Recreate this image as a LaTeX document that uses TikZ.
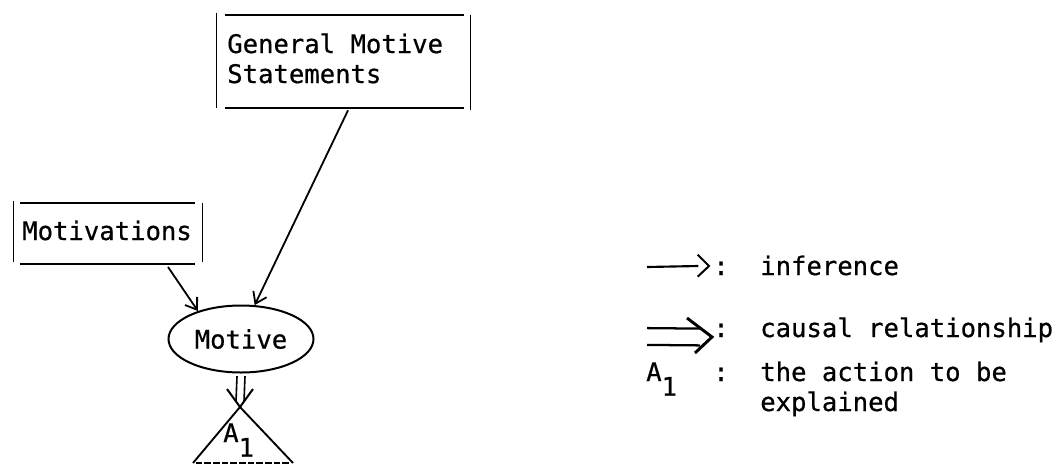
\documentclass[tikz,border=0pt]{standalone}
\usepackage{fontspec}
\newfontfamily\tw{DejaVu Sans Mono}[FakeBold=0.6]
\usetikzlibrary{arrows.meta,shapes.geometric}
\begin{document}
\begin{tikzpicture}[x=0.75pt,y=-0.75pt,
  font=\tw\fontsize{19.2}{22.5}\selectfont,
  txt/.style={inner sep=0pt, anchor=base west},
  boxnode/.style={rectangle, inner sep=0pt},
  hline/.style={line width=1.8pt},
  vline/.style={line width=1pt},
  conn/.style={line width=1.35pt, -{Straight Barb[length=8pt,width=11pt]}},
  dbl/.style={line width=1.2pt},
  head/.style={line width=1.5pt, line join=miter},
  tri/.style={line width=1.4pt}]
\useasboundingbox (0,0) rectangle (1061,465);

% General Motive Statements box
\node[boxnode, minimum width=189.75pt, minimum height=69.75pt] (gms) at (343.5,61.5) {};
\node[txt] (gms1) at (227,53) {General Motive};
\node[txt] (gms2) at (227,83) {Statements};
\draw[hline] ([xshift=6pt]gms.north west) -- ([xshift=-5pt]gms.north east);
\draw[hline] ([xshift=6pt]gms.south west) -- ([xshift=-5pt]gms.south east);
\draw[vline] ([yshift=1.5pt]gms.north west) -- (gms.south west);
\draw[vline] (gms.north east) -- ([yshift=-1.5pt]gms.south east);

% Motivations box
\node[boxnode, minimum width=141pt, minimum height=45.75pt] (mots) at (108,233.5) {};
\node[txt] (motstext) at (22,240) {Motivations};
\draw[hline] ([xshift=4.5pt]mots.north west) -- ([xshift=-5.25pt]mots.north east);
\draw[hline] ([xshift=4.5pt]mots.south west) -- ([xshift=-5.25pt]mots.south east);
\draw[vline] ([yshift=1pt]mots.north west) -- ([yshift=1.5pt]mots.south west);
\draw[vline] (mots.north east) -- ([yshift=1.5pt]mots.south east);

% Motive
\node[ellipse, draw, line width=1.5pt, minimum width=108.75pt, minimum height=50.25pt, inner sep=0pt] (motive) at (241,339) {Motive};

% inference connectors
\draw[conn] ([xshift=45pt,yshift=-2pt]mots.south) -- (motive.147);
\draw[conn] ([xshift=3.4pt,yshift=-1.5pt]gms.south) -- (motive.68);

% action A1 (triangle)
\coordinate (apex) at (240,407);
\coordinate (tl) at (193,463);
\coordinate (tr) at (293,463);
\draw[tri] (tl) -- (apex) -- (tr);
\draw[line width=1.1pt, dash pattern=on 5pt off 1.5pt] ([xshift=2pt]tl) -- ([xshift=-2pt]tr);
\node[txt] (a1) at (223,442) {A\raisebox{-11pt}{1}};

% causal relationship Motive => A1
\draw[dbl] ([xshift=-3pt,yshift=-2pt]motive.south) -- ([xshift=-3pt,yshift=4pt]apex);
\draw[dbl] ([xshift=3pt,yshift=-2pt]motive.south) -- ([xshift=3pt,yshift=4pt]apex);
\draw[head] ([xshift=-9.75pt,yshift=13.5pt]apex) -- (apex) -- ([xshift=9.75pt,yshift=13.5pt]apex);

% legend
\coordinate (l1a) at (647,267);
\coordinate (l1b) at (709,266);
\draw[line width=1.6pt] (l1a) -- ([xshift=-8pt]l1b);
\draw[head] ([xshift=-8.5pt,yshift=8.5pt]l1b) -- (l1b) -- ([xshift=-8.5pt,yshift=-8pt]l1b);
\node[txt] (c1) at (713,275) {:};
\node[txt] (inf) at (760,275) {inference};

\coordinate (l2a) at (647,336.5);
\coordinate (l2b) at (712,337);
\draw[line width=1.7pt] ([yshift=6.3pt]l2a) -- ([xshift=-9pt,yshift=6.3pt]l2b);
\draw[line width=1.7pt] ([yshift=-6.3pt]l2a) -- ([xshift=-9pt,yshift=-6.3pt]l2b);
\draw[line width=2.2pt, line join=miter] ([xshift=-18.75pt,yshift=14.25pt]l2b) -- (l2b) -- ([xshift=-12.75pt,yshift=-12pt]l2b);
\node[txt] (c2) at (713,337) {:};
\node[txt] (causal) at (760,337) {causal relationship};

\node[txt] (la1) at (646,381) {A\raisebox{-11pt}{1}};
\node[txt] (c3) at (713,381) {:};
\node[txt] (act1) at (760,381) {the action to be};
\node[txt] (act2) at (760,411) {explained};
\end{tikzpicture}
\end{document}
